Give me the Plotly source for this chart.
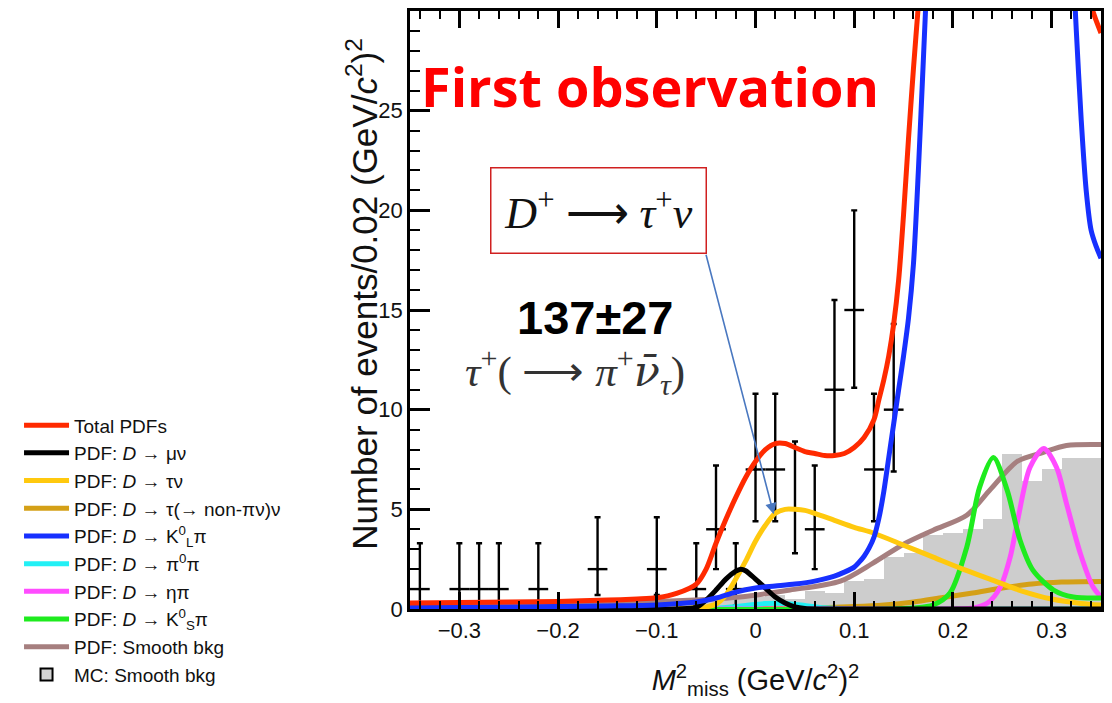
import plotly.graph_objects as go

# ---------------- data ----------------
# observed data points (bin centres, counts, asymmetric errors)
data_x = [-0.34, -0.30, -0.28, -0.26, -0.22, -0.16, -0.10, -0.06, -0.04, -0.02,
          0.00, 0.02, 0.04, 0.06, 0.08, 0.10, 0.12, 0.14]
data_y = [1, 1, 1, 1, 1, 2, 2, 1, 4, 1, 7, 7, 5, 4, 11, 15, 7, 10]
err_up = [2.3, 2.3, 2.3, 2.3, 2.3, 2.6, 2.6, 2.3, 3.2, 2.3, 3.8, 3.8, 3.4, 3.2, 4.5, 5.0, 3.8, 4.3]
err_dn = [0.83, 0.83, 0.83, 0.83, 0.83, 1.3, 1.3, 0.83, 2.0, 0.83, 2.6, 2.6, 2.2, 2.0, 3.3, 3.9, 2.6, 3.1]

# MC smooth background histogram (bin centres, contents)
mc_x = [-0.34, -0.32, -0.30, -0.28, -0.26, -0.24, -0.22, -0.20, -0.18, -0.16, -0.14, -0.12,
        -0.10, -0.08, -0.06, -0.04, -0.02, 0.00, 0.02, 0.04, 0.06, 0.08, 0.10, 0.12,
        0.14, 0.16, 0.18, 0.20, 0.22, 0.24, 0.26, 0.28, 0.30, 0.32, 0.34]
mc_y = [0.2, 0.2, 0.2, 0.25, 0.2, 0.25, 0.3, 0.25, 0.3, 0.3, 0.3, 0.35,
        0.35, 0.4, 0.4, 0.45, 0.5, 0.6, 0.7, 0.5, 0.9, 0.8, 1.4, 1.5,
        2.6, 2.8, 3.7, 3.8, 4.0, 4.5, 7.8, 6.4, 7.0, 7.6, 7.6]

# Total PDFs
tot_x = [-0.35, -0.30, -0.25, -0.20, -0.15, -0.12, -0.10, -0.08, -0.06, -0.05, -0.04, -0.03,
         -0.02, -0.01, 0.00, 0.01, 0.02, 0.03, 0.04, 0.05, 0.06, 0.07, 0.08, 0.09, 0.10,
         0.11, 0.12, 0.125, 0.13, 0.135, 0.14, 0.145, 0.15, 0.155, 0.16, 0.165, 0.17,
         0.18, 0.20, 0.25, 0.30, 0.32, 0.33, 0.34, 0.35]
tot_y = [0.30, 0.32, 0.35, 0.38, 0.45, 0.50, 0.56, 0.78, 1.25, 2.0, 3.3, 4.5,
         5.6, 6.6, 7.4, 8.0, 8.3, 8.3, 8.1, 7.9, 7.8, 7.7, 7.7, 7.8, 8.1,
         8.6, 9.5, 10.5, 11.5, 12.7, 14.3, 16.5, 19.8, 23.6, 27.1, 30.3, 33.5,
         40.0, 48.0, 55.0, 48.0, 40.0, 34.0, 30.3, 28.9]

# PDF: D -> mu nu
mu_x = [-0.35, -0.08, -0.06, -0.05, -0.04, -0.03, -0.02, -0.015, -0.01, 0.00, 0.01, 0.02,
        0.03, 0.04, 0.05, 0.07, 0.35]
mu_y = [0.0, 0.0, 0.08, 0.45, 0.95, 1.5, 1.9, 2.0, 1.92, 1.5, 1.05, 0.6,
        0.3, 0.1, 0.02, 0.0, 0.0]

# PDF: D -> tau nu
tau_x = [-0.35, -0.10, -0.06, -0.05, -0.04, -0.03, -0.02, -0.01, 0.00, 0.01, 0.02, 0.03,
         0.04, 0.05, 0.06, 0.08, 0.10, 0.12, 0.15, 0.18, 0.21, 0.24, 0.27, 0.30, 0.33, 0.35]
tau_y = [0.02, 0.02, 0.05, 0.1, 0.25, 0.7, 1.5, 2.4, 3.4, 4.2, 4.8, 5.0,
         5.0, 4.95, 4.8, 4.45, 4.1, 3.8, 3.2, 2.6, 2.0, 1.45, 0.9, 0.5, 0.28, 0.2]

# PDF: D -> tau(-> non-pi nu) nu
tnp_x = [-0.35, 0.00, 0.05, 0.10, 0.13, 0.16, 0.19, 0.22, 0.25, 0.28, 0.31, 0.35]
tnp_y = [0.0, 0.02, 0.05, 0.12, 0.2, 0.35, 0.58, 0.8, 1.05, 1.25, 1.35, 1.38]

# PDF: D -> K0L pi
kl_x = [-0.35, -0.25, -0.15, -0.10, -0.06, -0.04, -0.02, 0.00, 0.02, 0.04, 0.06, 0.08,
        0.09, 0.10, 0.105, 0.11, 0.115, 0.12, 0.125, 0.13, 0.135, 0.14, 0.145, 0.15,
        0.155, 0.16, 0.165, 0.17, 0.175, 0.185, 0.20, 0.25, 0.30, 0.31, 0.32, 0.325,
        0.33, 0.335, 0.34, 0.345, 0.35]
kl_y = [0.08, 0.1, 0.15, 0.2, 0.35, 0.55, 0.85, 1.05, 1.15, 1.25, 1.4, 1.65,
        1.85, 2.1, 2.35, 2.65, 3.05, 3.6, 4.55, 5.9, 7.6, 9.3, 11.0, 12.7,
        14.6, 17.3, 22.0, 27.5, 33.0, 42.0, 50.0, 56.0, 50.0, 44.0, 34.0, 29.0,
        24.5, 21.0, 19.0, 18.2, 17.6]

# PDF: D -> pi0 pi
pp_x = [-0.35, -0.06, -0.03, -0.01, 0.01, 0.03, 0.05, 0.07, 0.09, 0.35]
pp_y = [0.0, 0.02, 0.08, 0.18, 0.27, 0.28, 0.18, 0.06, 0.01, 0.0]

# PDF: D -> eta pi
eta_x = [-0.35, 0.18, 0.22, 0.235, 0.248, 0.258, 0.265, 0.278, 0.292, 0.305, 0.315,
         0.329, 0.342, 0.35]
eta_y = [0.0, 0.0, 0.05, 0.3, 1.1, 2.6, 4.3, 7.1, 8.05, 7.1, 5.3, 2.8, 1.1, 0.6]

# PDF: D -> K0S pi
ks_x = [-0.35, 0.14, 0.16, 0.18, 0.197, 0.214, 0.227, 0.241, 0.255, 0.268, 0.281,
        0.302, 0.322, 0.35]
ks_y = [0.0, 0.0, 0.05, 0.2, 0.8, 3.1, 6.1, 7.6, 5.95, 3.45, 1.95, 0.95, 0.6, 0.55]

# PDF: smooth background
bkg_x = [-0.35, -0.20, -0.10, -0.05, -0.016, 0.035, 0.086, 0.119, 0.15, 0.18, 0.214,
         0.238, 0.265, 0.291, 0.315, 0.35]
bkg_y = [0.25, 0.3, 0.38, 0.48, 0.6, 0.95, 1.4, 2.3, 3.25, 3.95, 4.7, 6.0, 7.4,
         7.85, 8.2, 8.25]

x_tick_vals = [-0.3, -0.2, -0.1, 0.0, 0.1, 0.2, 0.3]
x_tick_text = ["\u22120.3", "\u22120.2", "\u22120.1", "0", "0.1", "0.2", "0.3"]
y_tick_vals = [0, 5, 10, 15, 20, 25]
y_tick_text = ["0", "5", "10", "15", "20", "25"]

# ---------------- styles ----------------
SANS = "Liberation Sans, Arial, sans-serif"
SERIF = "Liberation Serif, Times New Roman, serif"
LW = 5
LONG_ARROW = "\u27f6"
NUBAR = '<i><span style="font-family:DejaVu Serif">\u03bd\u0304</span></i>'

fig = go.Figure()

# MC histogram (filled, no border)
fig.add_trace(go.Bar(x=mc_x, y=mc_y, width=0.02, marker=dict(color="#CDCDCD", line=dict(width=0)),
                     showlegend=False, hoverinfo="skip"))

# data points
fig.add_trace(go.Scatter(x=data_x, y=data_y, mode="markers",
                         marker=dict(size=3, color="black"),
                         error_x=dict(type="constant", value=0.01, thickness=2.4, width=0, color="black"),
                         error_y=dict(type="data", symmetric=False, array=err_up, arrayminus=err_dn,
                                      thickness=2.4, width=3, color="black"),
                         showlegend=False))

def curve(x, y, color, name, rank, width=LW):
    fig.add_trace(go.Scatter(x=x, y=y, mode="lines", name=name, legendrank=rank,
                             line=dict(color=color, width=width, shape="spline", smoothing=0.8)))

curve(bkg_x, bkg_y, "#A67F7F", "PDF: Smooth bkg", 9)
curve(tnp_x, tnp_y, "#D4A017", "PDF: <i>D</i> \u2192 \u03c4(\u2192 non-\u03c0\u03bd)\u03bd", 4)
curve(pp_x, pp_y, "#22F0F5", "PDF: <i>D</i> \u2192 \u03c0<sup>0</sup>\u03c0", 6)
curve(eta_x, eta_y, "#FF4CFF", "PDF: <i>D</i> \u2192 \u03b7\u03c0", 7)
curve(ks_x, ks_y, "#1EEB1E", "PDF: <i>D</i> \u2192 K<sup>0</sup><sub>S</sub>\u03c0", 8)
curve(tau_x, tau_y, "#FFC90E", "PDF: <i>D</i> \u2192 \u03c4\u03bd", 3)
curve(mu_x, mu_y, "#000000", "PDF: <i>D</i> \u2192 \u03bc\u03bd", 2)
curve(kl_x, kl_y, "#1730FF", "PDF: <i>D</i> \u2192 K<sup>0</sup><sub>L</sub>\u03c0", 5)
curve(tot_x, tot_y, "#FF2A00", "Total PDFs", 1)

# legend-only entry for the MC histogram
fig.add_trace(go.Bar(x=[None], y=[None], name="MC: Smooth bkg", legendrank=10,
                     marker=dict(color="#D3D3D3", line=dict(color="black", width=2))))

# ---------------- annotations ----------------
fig.add_annotation(xref="paper", yref="paper", x=0.013, y=0.875, xanchor="left", yanchor="middle",
                   text="<b>First observation</b>", showarrow=False,
                   font=dict(family="Open Sans, sans-serif", size=54, color="#FF0000"))
fig.add_annotation(xref="paper", yref="paper", x=0.2735, y=0.666, xanchor="center", yanchor="middle",
                   text="<i>D</i><sup>+</sup> " + LONG_ARROW + " <i>\u03c4</i><sup>+</sup><i>\u03bd</i>",
                   showarrow=False, width=206, height=76, borderpad=4, borderwidth=1.5,
                   bordercolor="#D02020", bgcolor="white",
                   font=dict(family=SERIF, size=44, color="#111111"))
fig.add_annotation(xref="x", yref="y", x=0.0185, y=4.75, axref="x", ayref="y", ax=-0.0505, ay=17.85,
                   text="", showarrow=True, arrowhead=2, arrowsize=1.4, arrowwidth=1.6,
                   arrowcolor="#4A78C0")
fig.add_annotation(xref="paper", yref="paper", x=0.268, y=0.488, xanchor="center", yanchor="middle",
                   text="<b>137\u00b127</b>", showarrow=False,
                   font=dict(family=SANS, size=47, color="#000000"))
fig.add_annotation(xref="paper", yref="paper", x=0.239, y=0.397, xanchor="center", yanchor="middle",
                   text="<i>\u03c4</i><sup>+</sup>( " + LONG_ARROW + " <i>\u03c0</i><sup>+</sup>" + NUBAR
                        + "<sub><i>\u03c4</i></sub>)",
                   showarrow=False, font=dict(family=SERIF, size=43, color="#333333"))
# y-axis title (placed as rotated text, like the reference)
fig.add_annotation(xref="paper", yref="paper", x=-0.0695, y=0.527, xanchor="center", yanchor="middle",
                   textangle=-90, showarrow=False,
                   text="Number of events/0.02 (GeV/<i>c</i><sup>2</sup>)<sup>2</sup>",
                   font=dict(family=SANS, size=35, color="#111111"))

# ---------------- layout ----------------
# (the page body adds an 8 px offset; the figure is sized so that the plot frame lands in place)
fig.update_layout(
    width=1104, height=695,
    margin=dict(l=402, r=11, t=0, b=94),
    paper_bgcolor="white", plot_bgcolor="white",
    barmode="overlay", bargap=0,
    font=dict(family=SANS, color="#111111"),
    legend=dict(x=-0.5658, y=0.339, xanchor="left", yanchor="top", traceorder="normal",
                font=dict(family=SANS, size=19, color="#111111"), bgcolor="rgba(0,0,0,0)",
                itemwidth=45),
    xaxis=dict(range=[-0.35, 0.35], tickmode="array", tickvals=x_tick_vals, ticktext=x_tick_text,
               ticks="inside", ticklen=17, tickwidth=2.5, tickcolor="black",
               showline=True, linewidth=2.5, linecolor="black", mirror="ticks",
               showgrid=False, zeroline=False,
               minor=dict(dtick=0.02, tick0=0, ticks="inside", ticklen=8, tickwidth=2, tickcolor="black"),
               tickfont=dict(family=SANS, size=22, color="#111111"),
               title=dict(text="<i>M</i><sup>2</sup><sub>miss</sub> (GeV/<i>c</i><sup>2</sup>)<sup>2</sup>",
                          font=dict(family=SANS, size=29, color="#111111"), standoff=28)),
    yaxis=dict(range=[0, 30], tickmode="array", tickvals=y_tick_vals, ticktext=y_tick_text,
               ticks="inside", ticklen=20, tickwidth=2.5, tickcolor="black",
               showline=True, linewidth=2.5, linecolor="black", mirror=True,
               showgrid=False, zeroline=False,
               minor=dict(dtick=1, tick0=0, ticks="inside", ticklen=10, tickwidth=2, tickcolor="black"),
               tickfont=dict(family=SANS, size=22, color="#111111")),
)

fig.write_html("out.html")
